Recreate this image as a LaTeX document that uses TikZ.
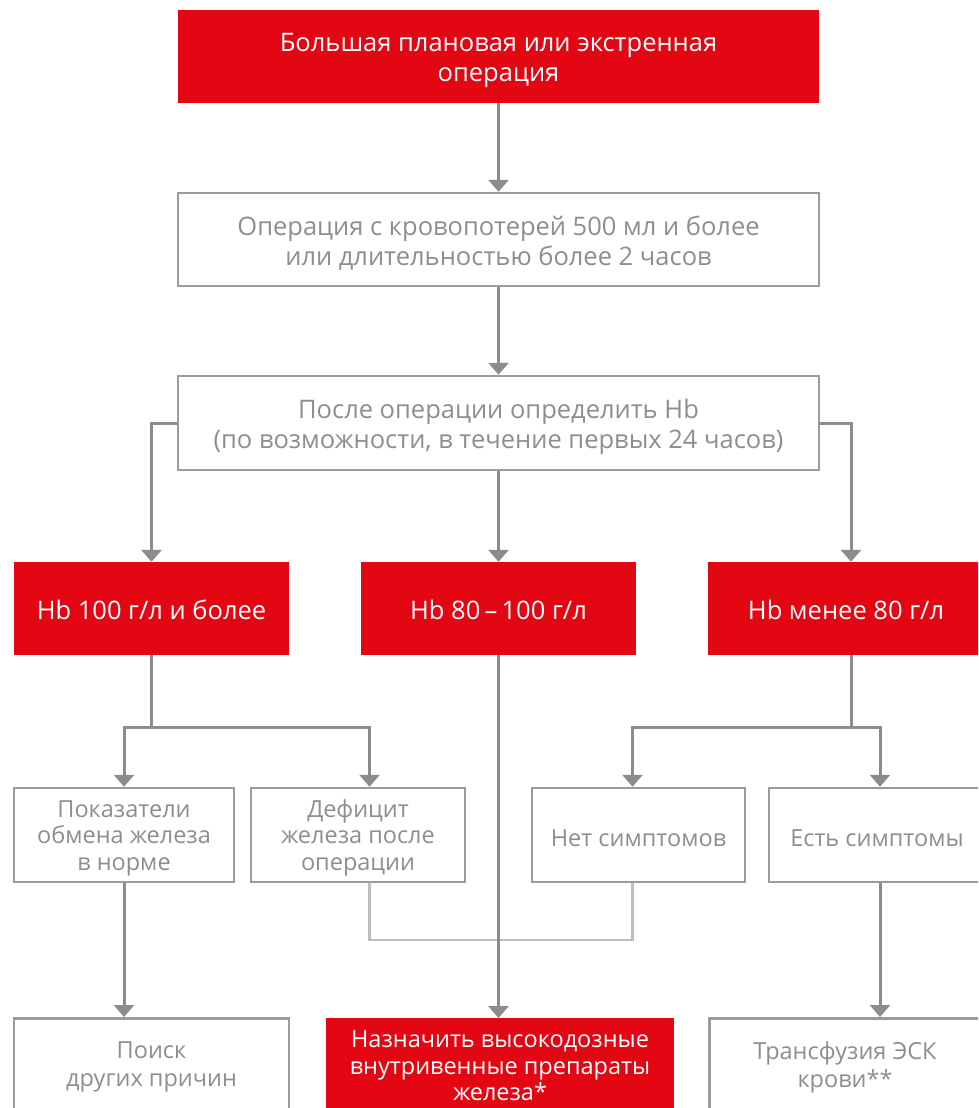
\documentclass[tikz,border=0pt]{standalone}
\usepackage{fontspec}
\setmainfont{Open Sans}
\usetikzlibrary{arrows.meta,calc}
\definecolor{hred}{HTML}{E30613}
\definecolor{lgray}{HTML}{8C8C8C}
\definecolor{bgray}{HTML}{9B9B9B}
\definecolor{tgray}{HTML}{8E8E8E}
\definecolor{pgray}{HTML}{BEBEBE}
\newcommand\dnr[1]{\rule{0pt}{#1pt}}
\begin{document}
\begin{tikzpicture}[x=1pt,y=-1pt,
  txt/.style={align=center, inner sep=0pt, font=\fontsize{25.5}{30}\selectfont},
  small/.style={font=\fontsize{23.5}{26.5}\selectfont},
  redbox/.style={txt, fill=hred, text=white, draw=none},
  graybox/.style={txt, draw=bgray, line width=2.5pt, fill=white, text=tgray},
  conn/.style={draw=lgray, line width=3pt},
  arr/.style={conn, -{Triangle[width=20pt,length=12pt]}},
  pale/.style={draw=pgray, line width=2.5pt}]
\clip (0,0) rectangle (978,1108);
\fill[white] (0,0) rectangle (978,1108);
% top
\node[redbox, minimum width=641pt, minimum height=93pt] (top) at (498.5,56.5) {\dnr{26}Большая плановая или экстренная\\операция};
\node[graybox, minimum width=641pt, minimum height=93pt] (op) at (498.5,239.5) {\dnr{26}Операция с кровопотерей 500 мл и более\\или длительностью более 2 часов};
\node[graybox, minimum width=641pt, minimum height=94pt] (post) at (498.5,423) {\dnr{27}После операции определить Hb\\(по возможности, в течение первых 24 часов)};
% red row
\node[redbox, minimum width=275pt, minimum height=93pt] (A) at (151.5,608.5) {\dnr{23}Hb 100 г/л и более};
\node[redbox, minimum width=275pt, minimum height=93pt] (B) at (498.5,608.5) {\dnr{23}Hb 80\,–\,100 г/л};
\node[redbox, minimum width=276pt, minimum height=93pt] (C) at (846,608.5) {\dnr{23}Hb менее 80 г/л};
% fourth row
\node[graybox, small, minimum width=220pt, minimum height=94pt] (D) at (124,835) {\dnr{23}Показатели\\обмена железа\\в норме};
\node[graybox, small, minimum width=214pt, minimum height=94pt] (E) at (358,835) {\dnr{23}Дефицит\\железа после\\операции};
\node[graybox, small, minimum width=213pt, minimum height=94pt] (F) at (638.5,835) {\dnr{23}Нет симптомов};
\node[graybox, small, minimum width=216pt, minimum height=94pt] (G) at (877,835) {\dnr{23}Есть симптомы};
% bottom row
\node[graybox, minimum width=275pt, minimum height=100pt, anchor=north] (H) at (151.5,1017) {};
\node[txt, font=\fontsize{23.5}{28}\selectfont, text=tgray] (Ht) at (151.5,1067) {Поиск\\других причин};
\node[redbox, minimum width=348pt, minimum height=100pt, anchor=north] (I) at (500,1018) {};
\node[txt, small, text=white] (It) at (500,1066) {Назначить высокодозные\\внутривенные препараты\\железа*};
\node[graybox, minimum width=275pt, minimum height=100pt, anchor=north] (J) at (847,1017) {};
\node[txt, font=\fontsize{23.5}{28}\selectfont, text=tgray] (Jt) at (845,1067) {Трансфузия ЭСК\\крови**};
% helper coordinates
\coordinate (aj) at (151.5,727);
\coordinate (cj) at (851,727);
\coordinate (ex) at (369.5,0);
\coordinate (fx) at (632.5,0);
\coordinate (cx) at (851,0);
\coordinate (gx) at (880,0);
\coordinate (dx) at (124,0);
\coordinate (pl) at (0,940);
% connectors
\draw[arr] (top) -- (op);
\draw[arr] (op) -- (post);
\draw[arr] (post.west) -| (A.north);
\draw[arr] (post) -- (B);
\draw[arr] (post.east) -| (cx |- C.north);
\draw[conn] (A.south) -- (aj);
\draw[arr] (aj) -| (dx |- D.north);
\draw[arr] (aj) -| (ex |- E.north);
\draw[conn] (cx |- C.south) -- (cj);
\draw[arr] (cj) -| (fx |- F.north) ;
\draw[arr] (cj) -| (gx |- G.north);
\draw[pale] (ex |- E.south) |- (pl -| fx) -- (fx |- F.south);
\draw[arr] (B.south) -- (B.south |- I.north);
\draw[arr] (dx |- D.south) -- (dx |- H.north);
\draw[arr] (gx |- G.south) -- (gx |- J.north);
\end{tikzpicture}
\end{document}
